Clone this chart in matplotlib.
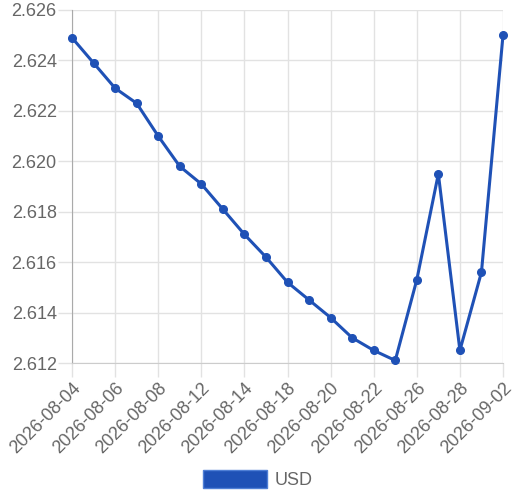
import matplotlib.pyplot as plt
from matplotlib.patches import Patch

# dati: cambio giornaliero USD
dates = ['2026-08-04', '2026-08-05', '2026-08-06', '2026-08-07', '2026-08-08',
         '2026-08-11', '2026-08-12', '2026-08-13', '2026-08-14', '2026-08-15',
         '2026-08-18', '2026-08-19', '2026-08-20', '2026-08-21', '2026-08-22',
         '2026-08-25', '2026-08-26', '2026-08-27', '2026-08-28', '2026-09-01',
         '2026-09-02']
usd = [2.6249, 2.6239, 2.6229, 2.6223, 2.6210, 2.6198, 2.6191, 2.6181, 2.6171,
       2.6162, 2.6152, 2.6145, 2.6138, 2.6130, 2.6125, 2.6121, 2.6153, 2.6195,
       2.6125, 2.6156, 2.6250]
yticks = [2.612, 2.614, 2.616, 2.618, 2.620, 2.622, 2.624, 2.626]

blue = '#1f51b6'
grid_c = '#e2e2e2'
text_c = '#666666'
fs = 13
plt.rcParams['font.family'] = ['Liberation Sans', 'DejaVu Sans']

W, H = 516, 504
fig = plt.figure(figsize=(W/100, H/100), dpi=100)
ax = fig.add_axes([72/W, (H-363)/H, (503-72)/W, (363-10)/H])

x = list(range(len(dates)))
ax.plot(x, usd, color=blue, lw=2.2, marker='o', ms=5.5, zorder=3, clip_on=False)

ax.set_xlim(0, len(dates)-1)
ax.set_ylim(yticks[0], yticks[-1])
ax.set_xticks(x[::2])
ax.set_xticklabels(dates[::2], rotation=45, ha='right', rotation_mode='anchor')
ax.set_yticks(yticks)
ax.set_yticklabels([f'{v:.3f}' for v in yticks])

ax.grid(True, color=grid_c, lw=1)
ax.tick_params(axis='both', colors=grid_c, labelcolor=text_c, labelsize=fs,
               length=10, width=1, pad=1)
ax.tick_params(axis='x', pad=2)
for s in ['top', 'right']:
    ax.spines[s].set_visible(False)
ax.spines['left'].set_color('#aaaaaa')
ax.spines['bottom'].set_color('#cccccc')

handle = Patch(facecolor=blue, edgecolor='#4f7fd6', lw=1, label='USD')
fig.legend(handles=[handle], loc='center', bbox_to_anchor=(0.5, 1 - 479.5/H),
           frameon=False, handlelength=3.5, handleheight=1.15, handletextpad=0.45,
           prop={'size': fs}, labelcolor=text_c)

fig.savefig('out.png', dpi=100)
